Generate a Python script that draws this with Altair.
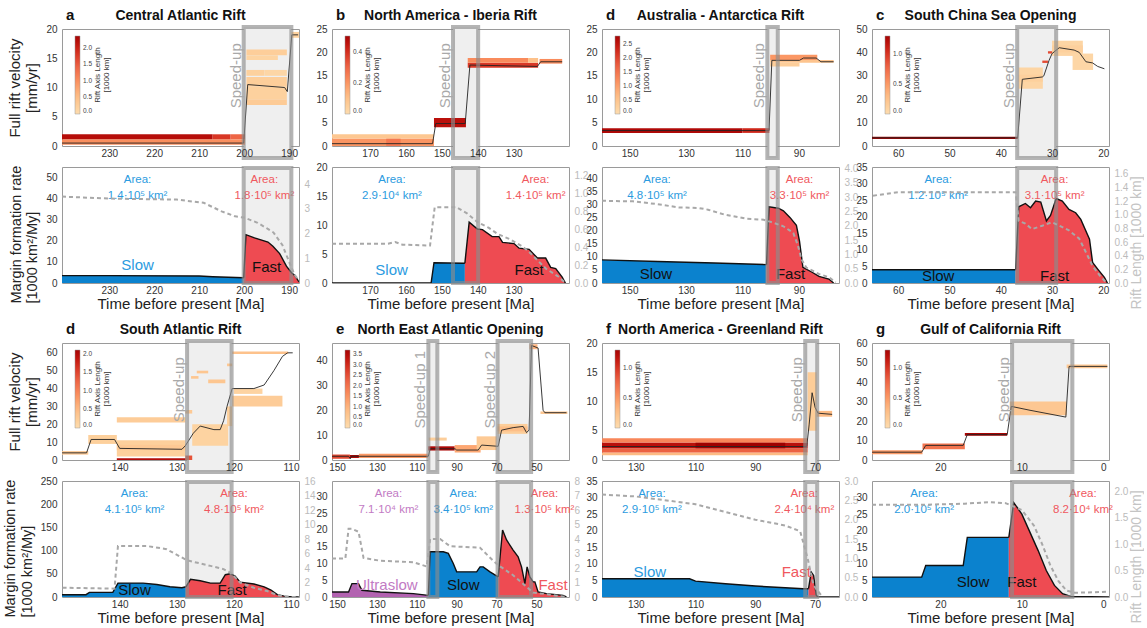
import altair as alt
import pandas as pd

FONT = "Liberation Sans"
W = 237
HT = 117
HB = 116

BLUE_A = "#0b82ce"
RED_A = "#ee4b52"
PURP_A = "#b262b0"
BLUE_T = "#2b9be0"
RED_T = "#f0585e"
PURP_T = "#c27ac4"
BLACK_T = "#111111"

# ---------------- panel a : Central Atlantic Rift ----------------
A_X = [240.5, 187.8]
A_XT = [230, 220, 210, 200, 190]
A_BAND = [(200.1, 189.5)]
A_BANDLAB = ["Speed-up"]
A_VEL_T = [240.5, 200.1, 199.2, 191.0, 190.4, 189.4, 188.0]
A_VEL_V = [0.5, 0.5, 10.5, 10.0, 9.3, 19.0, 19.0]
A_BARS = [(240.5, 207, 1.1, 2.0, 2.2), (207, 203, 1.1, 2.0, 1.8), (203, 199.8, 1.1, 2.0, 1.4),
          (240.5, 199.8, 0.2, 1.1, 1.0), (199.5, 190.5, 15.5, 16.5, 0.25), (199.5, 192.5, 14.7, 15.5, 0.15),
          (199.5, 195.5, 12.0, 13.0, 0.2), (195.5, 190.5, 12.0, 13.0, 0.1), (199.5, 190.5, 10.2, 11.8, 0.25),
          (199.5, 190.5, 8.0, 10.2, 0.2), (199.5, 190.5, 7.0, 8.0, 0.3), (189.5, 187.8, 18.5, 19.5, 0.2)]
A_SLOW_T = [240.5, 230, 210, 207, 200.1]
A_SLOW_R = [3.5, 3.5, 3.3, 3.0, 2.5]
A_FAST_T = [200.1, 199.6, 197.7, 194.7, 193.6, 192.1, 190.6, 189.5, 188.7, 187.8]
A_FAST_R = [2.5, 23.0, 21.5, 19.5, 17.5, 14.0, 8.0, 5.0, 3.5, 0.5]
A_LEN_T = [240.5, 230, 215, 209, 205, 202, 200, 197, 195, 193.5, 191.5, 190, 188.8, 187.8]
A_LEN = [3.5, 3.42, 3.38, 3.25, 2.9, 2.7, 2.65, 2.44, 2.22, 2.05, 1.54, 0.86, 0.34, 0.09]
A_AREA = [(223.7, "Area:\n1.4·10⁵ km²", BLUE_T), (195.5, "Area:\n1.8·10⁵ km²", RED_T)]
A_TAGS = [(223.7, 8.5, "Slow", BLUE_T), (195.0, 7.5, "Fast", BLACK_T)]

# ---------------- panel b : North America - Iberia Rift ----------------
B_X = [180.6, 114.6]
B_XT = [170, 160, 150, 140, 130]
B_BAND = [(146.9, 139.9)]
B_BANDLAB = ["Speed-up"]
B_VEL_T = [180.6, 152.6, 151.7, 143.5, 142.2, 123.4, 122.5, 116.5]
B_VEL_V = [0.5, 0.5, 4.8, 4.8, 17.3, 17.0, 18.0, 18.0]
B_BARS = [(180.6, 152.2, 0.0, 1.6, 0.2), (165.5, 161.5, 0.0, 1.6, 0.26), (180.6, 152.2, 1.6, 2.5, 0.08),
          (152.2, 143.3, 4.0, 6.0, 0.46), (142.8, 123.2, 16.7, 17.8, 0.38), (142.8, 126.0, 17.8, 18.8, 0.22),
          (126.0, 123.2, 17.8, 18.8, 0.1), (122.8, 116.5, 17.6, 18.6, 0.22)]
B_SLOW_T = [180.6, 153.0, 152.2, 144.0, 143.6]
B_SLOW_R = [0.0, 0.0, 3.5, 3.4, 3.4]
B_FAST_T = [143.6, 142.4, 140.1, 138.7, 136.0, 134.1, 133.1, 129.9, 128.5, 125.7, 123.4, 121.1, 119.7, 118.3, 116.5, 115.6]
B_FAST_R = [3.4, 10.5, 9.3, 9.2, 8.0, 8.0, 7.0, 6.8, 6.0, 5.8, 4.3, 4.3, 2.7, 2.5, 1.0, 0.0]
B_LEN_T = [180.6, 165, 163, 161, 153.3, 152, 146, 143, 140, 137, 134.5, 131, 128, 126, 123.5, 121, 117.5, 115.6]
B_LEN = [0.44, 0.44, 0.46, 0.43, 0.42, 0.85, 0.85, 0.78, 0.68, 0.62, 0.55, 0.49, 0.42, 0.36, 0.26, 0.16, 0.07, 0.0]
B_AREA = [(163.9, "Area:\n2.9·10⁴ km²", BLUE_T), (123.9, "Area:\n1.4·10⁵ km²", RED_T)]
B_TAGS = [(164.0, 2.3, "Slow", BLUE_T), (125.7, 2.3, "Fast", BLACK_T)]

# ---------------- panel Australia - Antarctica ----------------
D_X = [159.8, 75.8]
D_XT = [150, 130, 110, 90]
D_BAND = [(101.2, 97.5)]
D_BANDLAB = ["Speed-up"]
D_VEL_T = [159.8, 100.6, 99.6, 89.8, 88.4, 83.9, 82.2, 77.7]
D_VEL_V = [3.3, 3.3, 18.3, 18.3, 18.8, 18.8, 18.0, 18.0]
D_BARS = [(159.8, 110.0, 2.8, 3.8, 2.7), (110.0, 100.5, 2.8, 3.8, 2.3), (100.2, 83.5, 18.4, 19.5, 1.1),
          (100.2, 77.7, 17.8, 18.4, 0.5), (100.2, 89.8, 17.0, 17.8, 0.3)]
D_SLOW_T = [159.8, 140, 120, 101.5]
D_SLOW_R = [8.8, 8.2, 7.6, 7.0]
D_FAST_T = [101.5, 100.6, 97.3, 95.5, 93.2, 90.9, 89.8, 88.6, 85.2, 82.9, 79.4, 77.7]
D_FAST_R = [7.0, 29.0, 28.5, 27.5, 25.0, 22.0, 16.0, 6.0, 4.0, 2.5, 1.5, 0.0]
D_LEN_T = [159.8, 148.8, 140.7, 132.6, 125.6, 122.2, 116.4, 108.3, 102.5, 99.0, 95.5, 92.0, 90.3, 89.1, 87.4, 82.8, 79.3, 77.0]
D_LEN = [2.87, 2.85, 2.76, 2.64, 2.62, 2.56, 2.39, 2.24, 2.21, 2.10, 1.98, 1.75, 1.29, 0.83, 0.54, 0.31, 0.20, 0.02]
D_AREA = [(140.3, "Area:\n4.8·10⁵ km²", BLUE_T), (89.8, "Area:\n3.3·10⁵ km²", RED_T)]
D_TAGS = [(140.7, 3.4, "Slow", BLACK_T), (93.0, 3.4, "Fast", BLACK_T)]

# ---------------- panel South China Sea ----------------
C_X = [65.1, 18.9]
C_XT = [60, 50, 40, 30, 20]
C_BAND = [(36.8, 29.2)]
C_BANDLAB = ["Speed-up"]
C_VEL_T = [65.1, 36.7, 35.8, 31.9, 31.6, 30.6, 30.0, 28.6, 25.7, 24.7, 23.4, 22.1, 21.1, 19.8]
C_VEL_V = [3.5, 3.5, 28.5, 29.5, 30.0, 36.5, 39.5, 42.0, 41.0, 40.0, 36.0, 35.5, 34.0, 33.0]
C_BARS = [(65.1, 36.7, 3.0, 4.0, 1.3), (36.5, 31.8, 24.5, 33.5, 0.07), (36.5, 31.8, 27.5, 30.5, 0.12),
          (31.9, 30.8, 35.5, 36.5, 0.9), (30.8, 29.6, 39.5, 40.5, 0.9), (30.0, 24.0, 38.5, 45.0, 0.07),
          (30.0, 24.0, 40.0, 43.0, 0.12), (26.0, 22.0, 32.5, 39.5, 0.06)]
C_SLOW_T = [65.1, 37.1]
C_SLOW_R = [4.0, 4.0]
C_FAST_T = [37.1, 36.5, 35.2, 34.2, 33.2, 32.2, 31.1, 30.3, 29.2, 28.0, 26.7, 25.4, 24.4, 22.7, 22.1, 21.1, 19.8, 19.2]
C_FAST_R = [4.0, 23.0, 24.0, 22.7, 24.7, 24.4, 18.7, 20.4, 25.5, 24.7, 22.2, 21.2, 19.2, 13.2, 6.2, 4.2, 1.7, 0.0]
C_LEN_T = [64.9, 60.0, 37.1, 36.5, 35.2, 33.9, 31.9, 30.0, 28.0, 26.7, 24.7, 23.4, 22.1, 20.8, 19.5]
C_LEN = [1.28, 1.33, 1.33, 0.91, 0.87, 0.79, 0.84, 0.89, 0.82, 0.77, 0.65, 0.45, 0.25, 0.12, 0.01]
C_AREA = [(52.2, "Area:\n1.2·10⁵ km²", BLUE_T), (29.5, "Area:\n3.1·10⁵ km²", RED_T)]
C_TAGS = [(52.2, 2.2, "Slow", BLACK_T), (29.5, 2.2, "Fast", BLACK_T)]

# ---------------- panel South Atlantic ----------------
S_X = [150.1, 108.6]
S_XT = [140, 130, 120, 110]
S_BAND = [(128.2, 120.4)]
S_BANDLAB = ["Speed-up"]
S_VEL_T = [150.1, 145.8, 145.0, 140.9, 140.0, 129.1, 128.5, 127.1, 125.9, 123.5, 122.4, 121.8, 121.2, 120.3, 116.5, 114.7, 113.0, 111.5, 110.6, 109.7]
S_VEL_V = [4, 4, 11.5, 11.5, 6.5, 6.0, 8, 15, 19, 17, 17, 22, 30, 40, 40, 42, 50, 58, 60, 60]
S_BARS = [(150.1, 145.5, 3.0, 5.0, 0.3), (145.5, 140.5, 9.0, 14.0, 0.2), (140.5, 128.5, 2.0, 11.0, 0.2),
          (140.5, 128.5, 5.5, 8.5, 0.3), (140.5, 128.5, 21.0, 24.0, 0.25), (140.5, 128.2, 0.0, 1.0, 2.0),
          (128.5, 127.3, 0.0, 2.5, 1.4), (128.5, 127.3, 26.0, 28.0, 0.3), (127.5, 126.2, 45.5, 47.0, 0.35),
          (126.5, 124.5, 48.5, 50.0, 0.35), (124.5, 121.5, 43.0, 45.0, 0.35), (127.3, 121.0, 8.0, 20.0, 0.15),
          (121.2, 120.3, 52.5, 54.0, 0.35), (121.2, 120.3, 19.0, 30.0, 0.2), (120.3, 110.5, 59.3, 60.7, 0.4),
          (120.3, 111.5, 30.0, 36.0, 0.25), (120.0, 115.0, 37.0, 40.0, 0.15)]
S_SLOW_T = [150.1, 145.9, 145.3, 141.2, 140.3, 135.9, 133.5, 131.2, 129.1, 128.4]
S_SLOW_R = [5, 5, 10, 10, 30, 30, 27, 22, 20, 22]
S_FAST_T = [128.4, 127.6, 125.9, 124.1, 122.4, 121.5, 120.6, 119.8, 118.9, 116.5, 114.7, 113.5, 112.4, 111.2, 109.7, 108.6]
S_FAST_R = [22, 38, 35, 30, 30, 48, 50, 45, 32, 28, 22, 15, 5, 2, 0, 0]
S_LEN_T = [150.0, 140.9, 140.3, 135.3, 131.8, 128.2, 124.1, 121.8, 120.6, 120.0, 118.9, 116.5, 114.2, 112.4, 110.6, 108.6]
S_LEN = [1.28, 1.15, 7.04, 7.04, 6.6, 5.06, 4.29, 3.84, 3.33, 2.88, 1.98, 1.28, 0.83, 0.26, 0.0, 0.0]
S_AREA = [(137.4, "Area:\n4.1·10⁵ km²", BLUE_T), (120.0, "Area:\n4.8·10⁵ km²", RED_T)]
S_TAGS = [(137.4, 15, "Slow", BLACK_T), (120.3, 15, "Fast", BLACK_T)]

# ---------------- panel e : North East Atlantic ----------------
E_X = [152.5, 33.7]
E_XT = [150, 130, 110, 90, 70, 50]
E_BAND = [(104.2, 99.7), (69.5, 52.7)]
E_BANDLAB = ["Speed-up 1", "Speed-up 2"]
E_VEL_T = [152.5, 144.2, 143.3, 142.8, 104.2, 103.3, 90.8, 90.0, 79.2, 77.5, 69.2, 67.5, 61.7, 56.7, 55.0, 53.7, 52.5, 49.2, 46.7, 45.8, 35.0]
E_VEL_V = [1.5, 1.5, 0.5, 1.5, 1.5, 4.5, 4.5, 4.0, 4.0, 6.0, 5.5, 12, 13, 13.5, 11, 12, 46, 45, 20, 19, 19]
E_BARS = [(152.5, 143.5, 0.5, 2.2, 2.6), (143.5, 139.0, 0.8, 2.0, 3.6), (139.0, 104.5, 0.8, 2.5, 1.4),
          (104.2, 91.0, 3.8, 5.5, 3.6), (104.0, 95.0, 7.8, 9.0, 0.4), (91.0, 78.0, 3.0, 6.0, 1.2),
          (80.0, 70.0, 4.0, 9.5, 0.5), (69.5, 54.5, 10.5, 14.5, 0.4), (69.5, 54.5, 11.5, 13.5, 0.8),
          (53.5, 49.5, 44.5, 46.5, 1.0), (48.0, 34.5, 18.5, 19.5, 0.6)]
E_ULTRA_T = [152.5, 144.2, 142.5, 139.2, 137.5, 128.3, 111.7, 104.2]
E_ULTRA_R = [1.5, 1.5, 4.0, 4.0, 2.0, 1.5, 1.0, 0.5]
E_SLOW_T = [104.2, 103.3, 96.7, 94.2, 91.7, 90.0, 80.0, 78.3, 76.7, 73.3, 69.2]
E_SLOW_R = [0.5, 13.5, 13.5, 13.0, 10.0, 7.5, 7.5, 9.0, 9.0, 7.5, 6.0]
E_FAST_T = [69.2, 67.0, 65.0, 61.7, 59.2, 57.5, 55.8, 54.7, 53.3, 51.7, 50.8, 49.2, 45.0, 36.7, 35.0]
E_FAST_R = [6.0, 20.0, 17.0, 14.0, 12.0, 9.0, 4.0, 9.0, 6.0, 4.5, 4.5, 1.5, 1.0, 0.5, 0.0]
E_LEN_T = [152.5, 145.8, 144.2, 142.5, 139.2, 136.7, 128.3, 111.7, 105.0, 103.3, 98.3, 93.3, 78.3, 71.7, 69.2, 61.7, 55.8, 51.7, 45.0, 35.0]
E_LEN = [2.66, 2.66, 4.7, 4.7, 4.5, 2.7, 2.5, 2.4, 2.1, 4.0, 4.0, 3.5, 3.4, 2.5, 2.2, 1.5, 0.8, 0.3, 0.2, 0.0]
E_AREA = [(124.2, "Area:\n7.1·10⁴ km²", PURP_T), (86.7, "Area:\n3.4·10⁵ km²", BLUE_T), (46.0, "Area:\n1.3·10⁵ km²", RED_T)]
E_TAGS = [(125.0, 3.5, "Ultraslow", PURP_T), (86.7, 3.5, "Slow", BLACK_T), (41.7, 3.5, "Fast", RED_T)]

# ---------------- panel f : North America - Greenland ----------------
F_X = [141.3, 62.0]
F_XT = [130, 110, 90, 70]
F_BAND = [(73.3, 69.3)]
F_BANDLAB = ["Speed-up"]
F_VEL_T = [141.3, 72.8, 72.0, 71.0, 70.0, 69.0, 64.3]
F_VEL_V = [2.3, 2.3, 6.0, 11.5, 9.0, 8.0, 7.8]
F_BARS = [(141.3, 72.5, 0.8, 1.3, 0.3), (141.3, 72.5, 1.3, 2.0, 0.8), (141.3, 72.5, 2.0, 3.0, 1.2),
          (110.0, 80.0, 2.0, 3.0, 1.35), (141.3, 72.5, 3.0, 3.7, 0.6), (72.5, 69.5, 5.0, 15.0, 0.15),
          (69.5, 64.3, 7.4, 8.4, 0.3)]
F_SLOW_T = [141.3, 112, 110, 100, 90, 80, 74, 72.2]
F_SLOW_R = [5.5, 5.5, 4.8, 4.0, 3.3, 2.8, 2.5, 2.5]
F_FAST_T = [72.2, 71.3, 70.5, 69.6, 69.0, 62.0]
F_FAST_R = [2.5, 7.5, 6.5, 0.5, 0.0, 0.0]
F_LEN_T = [141.3, 130, 110, 100, 90, 80, 75, 72.5, 70.5, 68.0]
F_LEN = [2.65, 2.6, 2.4, 2.2, 2.0, 1.85, 1.7, 1.0, 0.3, 0.05]
F_AREA = [(124.6, "Area:\n2.9·10⁵ km²", BLUE_T), (73.6, "Area:\n2.4·10⁴ km²", RED_T)]
F_TAGS = [(125.3, 7.5, "Slow", BLUE_T), (76.3, 7.5, "Fast", RED_T)]

# ---------------- panel g : Gulf of California ----------------
G_X = [28.4, -0.7]
G_XT = [20, 10, 0]
G_BAND = [(11.2, 3.8)]
G_BANDLAB = ["Speed-up"]
G_VEL_T = [28.4, 22.3, 21.8, 17.2, 16.7, 11.8, 11.3, 9.0, 4.6, 4.2, -0.5]
G_VEL_V = [4.0, 4.0, 7.5, 7.5, 13.0, 13.0, 27.5, 25.5, 22.0, 48.0, 48.0]
G_BARS = [(28.4, 22.2, 3.0, 5.0, 0.5), (22.2, 17.0, 5.5, 8.5, 0.7), (17.0, 11.8, 12.5, 13.8, 1.3),
          (11.5, 4.5, 23.0, 30.0, 0.2), (4.5, -0.5, 47.0, 49.0, 0.2)]
G_SLOW_T = [28.4, 22.3, 21.8, 17.2, 16.7, 11.6]
G_SLOW_R = [6, 6, 9.5, 9.5, 18, 18]
G_FAST_T = [11.6, 11.0, 10.0, 9.0, 8.0, 7.0, 6.0, 5.0, 4.0, -0.7]
G_FAST_R = [18, 28.5, 25, 19.5, 14, 8, 3.5, 1.0, 0.2, 0]
G_LEN_T = [28.4, 22, 17, 14, 12, 10, 8.5, 7.5, 6.5, 5.5, 4.5, 3.5, -0.7]
G_LEN = [1.75, 1.75, 1.77, 1.8, 1.78, 1.65, 1.35, 1.0, 0.6, 0.3, 0.12, 0.08, 0.1]
G_AREA = [(22.0, "Area:\n2.0·10⁵ km²", BLUE_T), (2.5, "Area:\n8.2·10⁴ km²", RED_T)]
G_TAGS = [(16.0, 4.5, "Slow", BLACK_T), (10.0, 4.5, "Fast", BLACK_T)]


def panel(letter, title, x, xt, band, bandlab, vel_t, vel_v, bars, series, len_t, length, area, tags,
          vdom, vt, cmax, ct, ldom, lt, rdom, rt, rfmt):
    return dict(letter=letter, title=title, x=x, xt=xt, band=band, bandlab=bandlab, vel_t=vel_t, vel_v=vel_v,
                bars=bars, series=series, len_t=len_t, length=length, area=area, tags=tags, vdom=vdom, vt=vt,
                cmax=cmax, ct=ct, ldom=ldom, lt=lt, rdom=rdom, rt=rt, rfmt=rfmt)


ROW1 = [
    panel("a", "Central Atlantic Rift", A_X, A_XT, A_BAND, A_BANDLAB, A_VEL_T, A_VEL_V, A_BARS,
          [(A_SLOW_T, A_SLOW_R, BLUE_A), (A_FAST_T, A_FAST_R, RED_A)], A_LEN_T, A_LEN, A_AREA, A_TAGS,
          [0, 20], [0, 5, 10, 15, 20], 2.35, [0.0, 0.5, 1.0, 1.5, 2.0], [0, 55.2], [0, 10, 20, 30, 40, 50],
          [0, 4.7], [0, 1, 2, 3, 4], "d"),
    panel("b", "North America - Iberia Rift", B_X, B_XT, B_BAND, B_BANDLAB, B_VEL_T, B_VEL_V, B_BARS,
          [(B_SLOW_T, B_SLOW_R, BLUE_A), (B_FAST_T, B_FAST_R, RED_A)], B_LEN_T, B_LEN, B_AREA, B_TAGS,
          [0, 25], [0, 5, 10, 15, 20, 25], 0.5, [0.0, 0.2, 0.4], [0, 20], [0, 5, 10, 15, 20],
          [0, 1.3], [0.0, 0.2, 0.4, 0.6, 0.8, 1.0, 1.2], ".1f"),
    panel("d", "Australia - Antarctica Rift", D_X, D_XT, D_BAND, D_BANDLAB, D_VEL_T, D_VEL_V, D_BARS,
          [(D_SLOW_T, D_SLOW_R, BLUE_A), (D_FAST_T, D_FAST_R, RED_A)], D_LEN_T, D_LEN, D_AREA, D_TAGS,
          [0, 25], [0, 5, 10, 15, 20, 25], 2.8, [0.0, 0.5, 1.0, 1.5, 2.0, 2.5], [0, 44.2],
          [0, 5, 10, 15, 20, 25, 30, 35, 40], [0, 4.05], [0.0, 0.5, 1.0, 1.5, 2.0, 2.5, 3.0, 3.5, 4.0], ".1f"),
    panel("c", "South China Sea Opening", C_X, C_XT, C_BAND, C_BANDLAB, C_VEL_T, C_VEL_V, C_BARS,
          [(C_SLOW_T, C_SLOW_R, BLUE_A), (C_FAST_T, C_FAST_R, RED_A)], C_LEN_T, C_LEN, C_AREA, C_TAGS,
          [0, 50], [0, 10, 20, 30, 40, 50], 1.3, [0.0, 0.5, 1.0], [0, 35], [0, 5, 10, 15, 20, 25, 30, 35],
          [0, 1.7], [0.0, 0.2, 0.4, 0.6, 0.8, 1.0, 1.2, 1.4, 1.6], ".1f"),
]
ROW2 = [
    panel("d", "South Atlantic Rift", S_X, S_XT, S_BAND, S_BANDLAB, S_VEL_T, S_VEL_V, S_BARS,
          [(S_SLOW_T, S_SLOW_R, BLUE_A), (S_FAST_T, S_FAST_R, RED_A)], S_LEN_T, S_LEN, S_AREA, S_TAGS,
          [0, 65.5], [0, 10, 20, 30, 40, 50, 60], 2.1, [0.0, 0.5, 1.0, 1.5, 2.0], [0, 250],
          [0, 50, 100, 150, 200, 250], [0, 16], [0, 2, 4, 6, 8, 10, 12, 14, 16], "d"),
    panel("e", "North East Atlantic Opening", E_X, E_XT, E_BAND, E_BANDLAB, E_VEL_T, E_VEL_V, E_BARS,
          [(E_ULTRA_T, E_ULTRA_R, PURP_A), (E_SLOW_T, E_SLOW_R, BLUE_A), (E_FAST_T, E_FAST_R, RED_A)],
          E_LEN_T, E_LEN, E_AREA, E_TAGS,
          [0, 47], [0, 10, 20, 30, 40], 3.7, [0.0, 0.5, 1.0, 1.5, 2.0, 2.5, 3.0, 3.5], [0, 34.6],
          [0, 5, 10, 15, 20, 25, 30], [0, 8], [0, 1, 2, 3, 4, 5, 6, 7, 8], "d"),
    panel("f", "North America - Greenland Rift", F_X, F_XT, F_BAND, F_BANDLAB, F_VEL_T, F_VEL_V, F_BARS,
          [(F_SLOW_T, F_SLOW_R, BLUE_A), (F_FAST_T, F_FAST_R, RED_A)], F_LEN_T, F_LEN, F_AREA, F_TAGS,
          [0, 20], [0, 5, 10, 15, 20], 1.3, [0.0, 0.5, 1.0], [0, 35], [0, 5, 10, 15, 20, 25, 30, 35],
          [0, 3.0], [0.0, 0.5, 1.0, 1.5, 2.0, 2.5, 3.0], ".1f"),
    panel("g", "Gulf of California Rift", G_X, G_XT, G_BAND, G_BANDLAB, G_VEL_T, G_VEL_V, G_BARS,
          [(G_SLOW_T, G_SLOW_R, BLUE_A), (G_FAST_T, G_FAST_R, RED_A)], G_LEN_T, G_LEN, G_AREA, G_TAGS,
          [0, 60], [0, 10, 20, 30, 40, 50, 60], 1.3, [0.0, 0.5, 1.0], [0, 35], [0, 5, 10, 15, 20, 25, 30],
          [0, 2.2], [0.0, 0.5, 1.0, 1.5, 2.0], ".1f"),
]


def axis_kw(values, fmt, title, orient, gray=False, H=None, start=False):
    horiz = orient in ("top", "bottom")
    kw = dict(values=values, format=fmt, grid=False, domain=False, ticks=False, tickSize=0, labelFontSize=10,
              labelColor="#bbbbbb" if gray else "#333333", labelPadding=2 if horiz else 5, zindex=1,
              labelFlush=False, orient=orient)
    if title:
        kw.update(title=title, titleFontSize=15, titleFontWeight="normal",
                  titleColor="#c4c4c4" if gray else "#222222", titlePadding=1 if horiz else 6)
        if gray:
            kw.update(titleAngle=270, titleFontSize=14, titleAlign="left", titleBaseline="bottom",
                      titleX=34, titleY=H + 26)
        elif start:
            kw.update(titleFontSize=14.5, titleAlign="left", titleY=H + 20)
    else:
        kw["title"] = None
    return alt.Axis(**kw)


def band_df(p):
    return pd.DataFrame({"b0": [b[0] for b in p["band"]], "b1": [b[1] for b in p["band"]], "lab": p["bandlab"]})


def top_chart(p, first):
    H = HT
    xs = alt.Scale(domain=p["x"], nice=False, zero=False)
    xa = axis_kw(p["xt"], "d", None, "bottom")
    X = lambda f: alt.X(f, type="quantitative", scale=xs, axis=xa)
    ys = alt.Scale(domain=p["vdom"], nice=False, zero=False)
    ya = axis_kw(p["vt"], "d", ["Full rift velocity", "[mm/yr]"] if first else None, "left")
    Y = lambda f: alt.Y(f, type="quantitative", scale=ys, axis=ya)
    bands = band_df(p)
    bars = pd.DataFrame(p["bars"], columns=["t0", "t1", "v0", "v1", "len"])
    line = pd.DataFrame({"t": p["vel_t"], "v": p["vel_v"]})

    fill = alt.Chart(bands).mark_rect(color="#efefef").encode(
        x=X("b0"), x2="b1", y=alt.value(-2), y2=alt.value(H + 12))
    bar = alt.Chart(bars).mark_rect(clip=True).encode(
        x=X("t0"), x2="t1", y=Y("v0"), y2="v1",
        color=alt.Color("len", type="quantitative",
                        scale=alt.Scale(scheme="orangered", domain=[0, p["cmax"]]),
                        legend=alt.Legend(orient="none", legendX=13, legendY=7, direction="vertical",
                                          gradientLength=78, gradientThickness=5, values=p["ct"],
                                          format=".1f", labelFontSize=6.5, labelColor="#444444",
                                          title=None, gradientStrokeColor="#999999", gradientStrokeWidth=0.5,
                                          labelOverlap=False, labelOffset=3, padding=0)))
    ln = alt.Chart(line).mark_line(color="#222222", strokeWidth=0.9, clip=True).encode(x=X("t"), y=Y("v"))
    edge = alt.Chart(bands).mark_rect(fillOpacity=0, stroke="#8c8c8c", strokeWidth=4, strokeOpacity=0.65).encode(
        x=X("b0"), x2="b1", y=alt.value(-2), y2=alt.value(H + 12))
    sp = alt.Chart(bands).mark_text(angle=270, baseline="bottom", align="center", fontSize=15,
                                    color="#a9a9a9").encode(x=X("b0"), y=alt.value(H * 0.4), text="lab")
    cb1 = alt.Chart(pd.DataFrame({"s": ["Rift Axis Length"]})).mark_text(
        angle=270, fontSize=8, color="#333333", align="center", baseline="middle").encode(
        x=alt.value(36), y=alt.value(46), text="s")
    cb2 = alt.Chart(pd.DataFrame({"s": ["[1000 km]"]})).mark_text(
        angle=270, fontSize=8, color="#333333", align="center", baseline="middle").encode(
        x=alt.value(45), y=alt.value(46), text="s")
    let = alt.Chart(pd.DataFrame({"s": [p["letter"]]})).mark_text(
        fontSize=15, fontWeight="bold", align="left", baseline="alphabetic", color="#111111").encode(
        x=alt.value(4), y=alt.value(-9), text="s")
    ttl = alt.Chart(pd.DataFrame({"s": [p["title"]]})).mark_text(
        fontSize=14, fontWeight="bold", align="center", baseline="alphabetic", color="#111111").encode(
        x=alt.value(W / 2), y=alt.value(-9), text="s")
    return alt.layer(fill, bar, ln, edge, sp, cb1, cb2, let, ttl).properties(width=W, height=H)


def bot_chart(p, first, last):
    H = HB
    xs = alt.Scale(domain=p["x"], nice=False, zero=False)
    xa = axis_kw(p["xt"], "d", "Time before present [Ma]", "bottom")
    X = lambda f: alt.X(f, type="quantitative", scale=xs, axis=xa)
    ls = alt.Scale(domain=p["ldom"], nice=False, zero=False)
    la = axis_kw(p["lt"], "d", ["Margin formation rate", "[1000 km²/My]"] if first else None,
                 "left", H=H, start=True)
    Y = lambda f: alt.Y(f, type="quantitative", scale=ls, axis=la)
    rs = alt.Scale(domain=p["rdom"], nice=False, zero=False)
    ra = axis_kw(p["rt"], p["rfmt"], "Rift Length [1000 km]" if last else None, "right", gray=True, H=H)
    bands = band_df(p)

    layers = [alt.Chart(bands).mark_rect(color="#efefef").encode(
        x=X("b0"), x2="b1", y=alt.value(0), y2=alt.value(H))]
    for t, r, col in p["series"]:
        d = pd.DataFrame({"t": t, "r": r})
        layers.append(alt.Chart(d).mark_area(color=col, opacity=1, clip=True).encode(x=X("t"), y=Y("r")))
    for t, r, col in p["series"]:
        d = pd.DataFrame({"t": t, "r": r})
        layers.append(alt.Chart(d).mark_line(color="#111111", strokeWidth=1.4, clip=True).encode(
            x=X("t"), y=Y("r")))
    tags = pd.DataFrame(p["tags"], columns=["t", "y", "s", "c"])
    layers.append(alt.Chart(tags).mark_text(fontSize=15, baseline="middle", align="center").encode(
        x=X("t"), y=Y("y"), text="s", color=alt.Color("c", type="nominal", scale=None)))
    area = pd.DataFrame(p["area"], columns=["t", "s", "c"])
    layers.append(alt.Chart(area).mark_text(fontSize=11.5, baseline="top", align="center", lineBreak="\n",
                                            lineHeight=16).encode(
        x=X("t"), y=alt.value(7), text="s", color=alt.Color("c", type="nominal", scale=None)))
    layers.append(alt.Chart(bands).mark_rect(fillOpacity=0, stroke="#8c8c8c", strokeWidth=4,
                                             strokeOpacity=0.65).encode(
        x=X("b0"), x2="b1", y=alt.value(1), y2=alt.value(H)))
    left = alt.layer(*layers)
    lend = pd.DataFrame({"t": p["len_t"], "L": p["length"]})
    right = alt.Chart(lend).mark_line(color="#a8a8a8", strokeDash=[4, 3], strokeWidth=2, clip=True).encode(
        x=X("t"), y=alt.Y("L", type="quantitative", scale=rs, axis=ra))
    return alt.layer(left, right).resolve_scale(y="independent").properties(width=W, height=H)


def res(c):
    return c.resolve_scale(color="independent", x="independent", y="independent").resolve_legend(
        color="independent")


def hrow(charts):
    return res(alt.hconcat(*charts, spacing=33, bounds="flush"))


def block(panels):
    tops = hrow([top_chart(p, i == 0) for i, p in enumerate(panels)])
    bots = hrow([bot_chart(p, i == 0, i == len(panels) - 1) for i, p in enumerate(panels)])
    return res(alt.vconcat(tops, bots, spacing=0))


chart = res(alt.vconcat(block(ROW1), block(ROW2), spacing=9)).properties(
    padding={"left": 2, "top": 7, "right": 0, "bottom": 0}
).configure(font=FONT).configure_view(stroke="#9a9a9a", strokeWidth=1)

chart.save("out.html", embed_options={"renderer": "svg", "actions": False})
